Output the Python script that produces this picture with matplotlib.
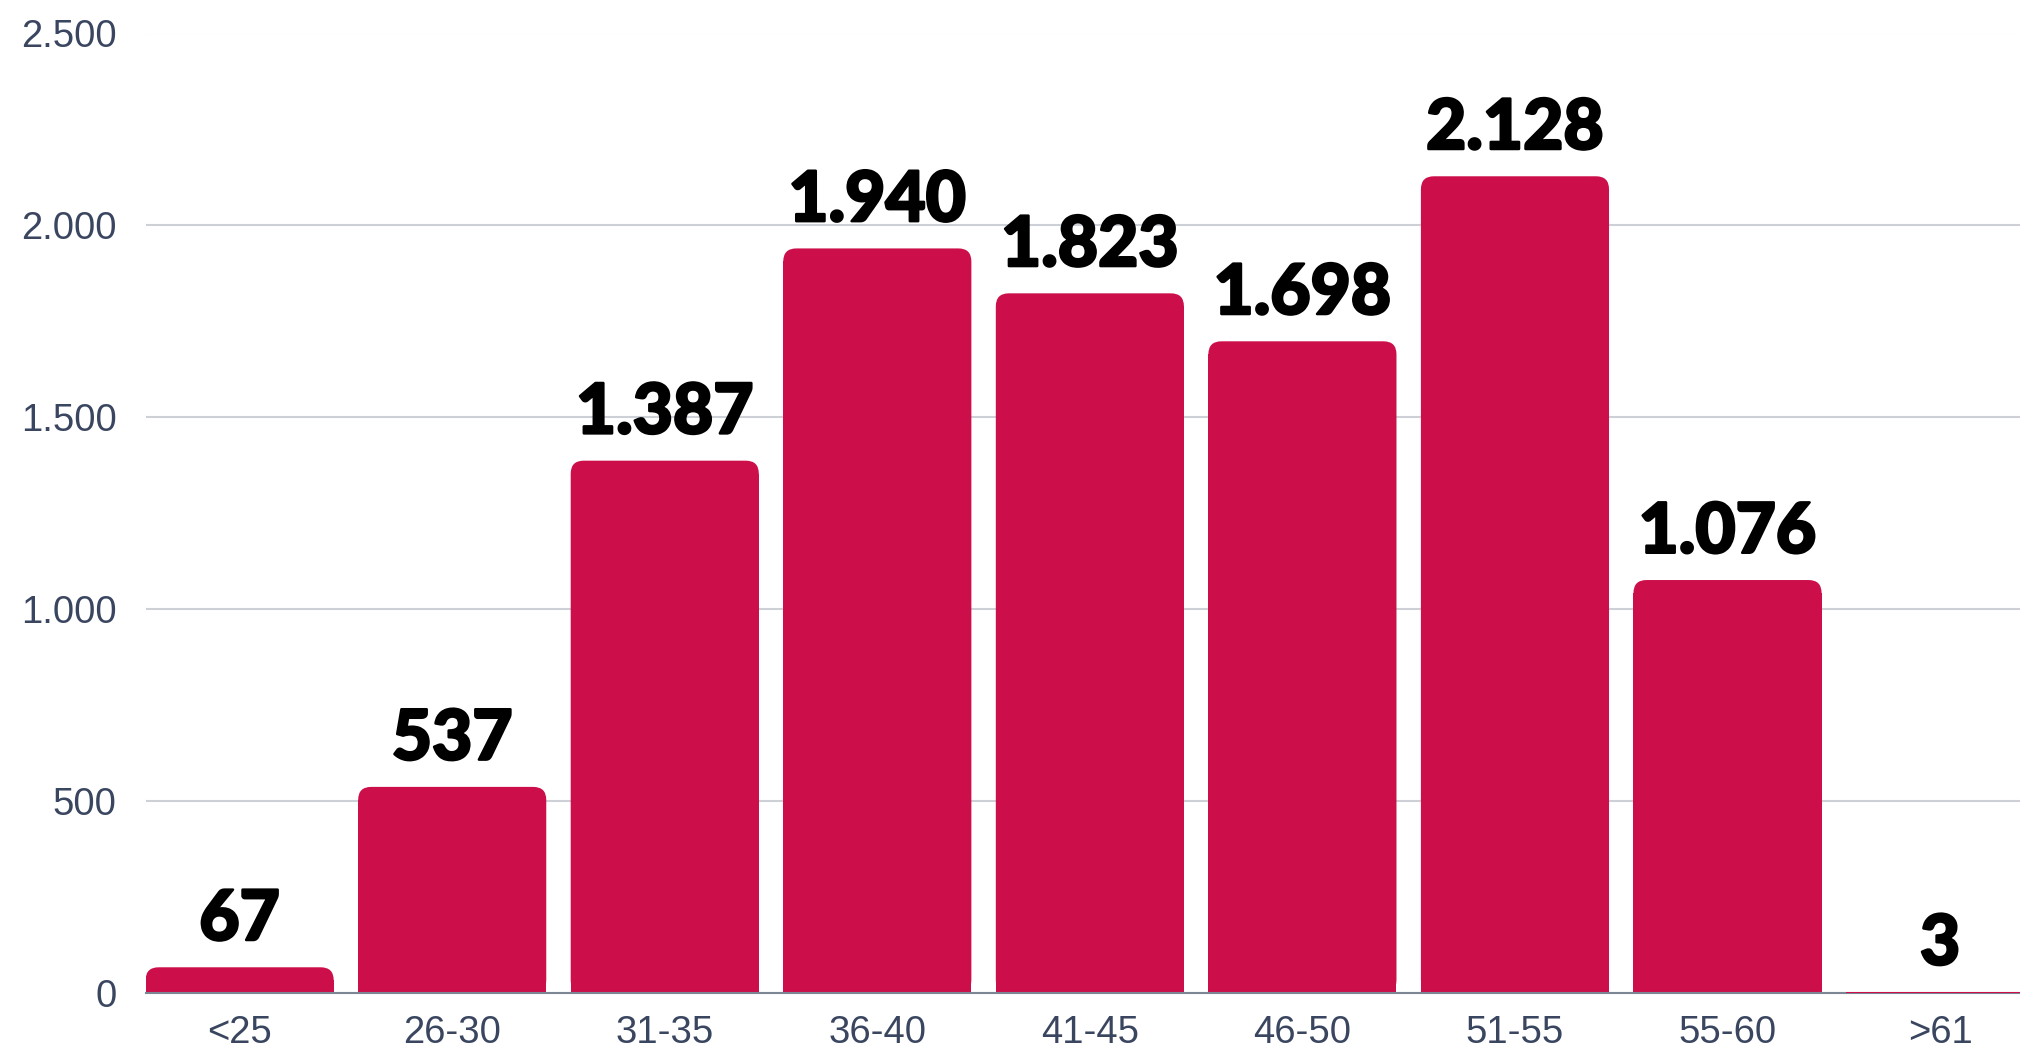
import matplotlib
matplotlib.use("Agg")
import matplotlib.pyplot as plt
import matplotlib.patheffects as pe
from matplotlib.patches import FancyBboxPatch, Rectangle

categories = ["<25", "26-30", "31-35", "36-40", "41-45", "46-50", "51-55", "55-60", ">61"]
values = [67, 537, 1387, 1940, 1823, 1698, 2128, 1076, 3]
value_labels = ["67", "537", "1.387", "1.940", "1.823", "1.698", "2.128", "1.076", "3"]
y_ticks = [0, 500, 1000, 1500, 2000, 2500]
y_tick_labels = ["0", "500", "1.000", "1.500", "2.000", "2.500"]

BAR = "#cc0f4a"
W, H, DPI = 2020, 1051, 100
fig = plt.figure(figsize=(W / DPI, H / DPI), dpi=DPI)
ax = fig.add_axes([145.6 / W, 1 - 993 / H, 1 - 145.6 / W, (993 - 33.5) / H])

x = list(range(len(categories)))
bw = 0.885
bars = ax.bar(x, values, width=bw, color=BAR, zorder=3)
ax.set_xlim(-bw / 2, 8.376)
ax.set_ylim(0, 2500)

# rounded tops
px_per_x = (W - 145.6) / (8.376 + bw / 2)
px_per_y = (993 - 33.5) / 2500
r_px = 13
rx = r_px / px_per_x
ry = r_px / px_per_y
for b in bars:
    h = b.get_height()
    x0 = b.get_x()
    w = b.get_width()
    if h * px_per_y > r_px + 2:
        b.set_visible(False)
        fb = FancyBboxPatch((x0, 0), w, h,
                            boxstyle=f"round,pad=0,rounding_size={rx}",
                            mutation_aspect=ry / rx,
                            facecolor=BAR, edgecolor="none", zorder=3)
        ax.add_patch(fb)
        ax.add_patch(Rectangle((x0, 0), w, h - ry, facecolor=BAR,
                               edgecolor="none", zorder=3))
    else:
        b.set_zorder(6)

for xi, v, lab in zip(x, values, value_labels):
    ax.annotate(lab, (xi, v), xytext=(0, 11), textcoords="offset points",
                ha="center", va="bottom", fontsize=50, fontweight="black",
                family=["Lato", "DejaVu Sans"], color="black", zorder=4,
                path_effects=[pe.withStroke(linewidth=1.8, foreground="black")])

ax.set_yticks(y_ticks)
ax.set_yticklabels(y_tick_labels)
ax.set_xticks(x)
ax.set_xticklabels(categories)
tick_color = "#3a4660"
ax.tick_params(axis="both", length=0, labelsize=27.5, labelcolor=tick_color)
ax.tick_params(axis="y", pad=21)
ax.tick_params(axis="x", pad=16)
for t in ax.get_xticklabels() + ax.get_yticklabels():
    t.set_family(["Liberation Sans", "DejaVu Sans"])

ax.grid(axis="y", color="#cdd1d7", linewidth=1.5, zorder=0)
ax.set_axisbelow(True)
for s in ["top", "right", "left"]:
    ax.spines[s].set_visible(False)
ax.spines["bottom"].set_color("#7d8694")
ax.spines["bottom"].set_linewidth(1.5)
ax.spines["bottom"].set_zorder(5)

fig.savefig("out.png", dpi=DPI)
